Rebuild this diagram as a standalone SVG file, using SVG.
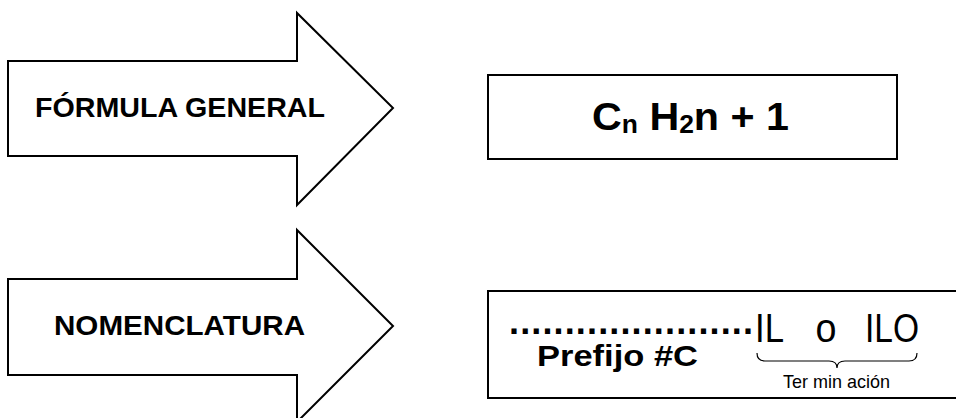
<svg xmlns="http://www.w3.org/2000/svg" width="956" height="418" viewBox="0 0 956 418">
<style>
.shape{fill:#fff;stroke:#000;stroke-width:2;stroke-linejoin:miter}
.b{font-family:"Liberation Sans",Arial,sans-serif;font-weight:bold;fill:#000}
.r{font-family:"Liberation Sans",Arial,sans-serif;font-weight:normal;fill:#000}
.brace{fill:none;stroke:#000;stroke-width:1.2}
</style>
<rect width="956" height="418" fill="#fff"/>
<g id="arrow-formula">
<polygon class="shape" points="8,61 297,61 297,13 393,108 297,205 297,156 8,156"/>
<text class="b" x="35" y="117" font-size="28" textLength="290" lengthAdjust="spacingAndGlyphs">FÓRMULA GENERAL</text>
</g>
<g id="box-formula">
<rect class="shape" x="488" y="75" width="409" height="84"/>
<text class="b" x="592" y="130" font-size="39" textLength="197" lengthAdjust="spacingAndGlyphs">C<tspan font-size="25" dy="3">n</tspan><tspan dy="-3"> H</tspan><tspan font-size="25" dy="3">2</tspan><tspan dy="-3">n + 1</tspan></text>
</g>
<g id="arrow-nomenclatura">
<polygon class="shape" points="8,279 297,279 297,230 393,326 297,422 297,375 8,375"/>
<text class="b" x="54" y="335" font-size="28" textLength="251" lengthAdjust="spacingAndGlyphs">NOMENCLATURA</text>
</g>
<g id="box-nomenclatura">
<rect class="shape" x="488" y="291" width="480" height="107"/>
<text class="b" x="509" y="334" font-size="36" textLength="244" lengthAdjust="spacing">......................</text>
<text class="r" x="755" y="342" font-size="40" textLength="29" lengthAdjust="spacingAndGlyphs">IL</text>
<text class="r" x="815.5" y="342" font-size="40" textLength="21" lengthAdjust="spacingAndGlyphs">o</text>
<text class="r" x="865" y="342" font-size="40" textLength="54" lengthAdjust="spacingAndGlyphs">ILO</text>
<text class="b" x="537" y="366" font-size="30" textLength="161" lengthAdjust="spacingAndGlyphs">Prefijo #C</text>
<path class="brace" d="M757,353 Q757,361 765,361 L829,361 Q837,361 837,368 Q837,361 845,361 L909,361 Q917,361 917,353"/>
<text class="r" x="783" y="388" font-size="19" textLength="107" lengthAdjust="spacingAndGlyphs">Ter min ación</text>
</g>
<g id="connectors"/>
</svg>
